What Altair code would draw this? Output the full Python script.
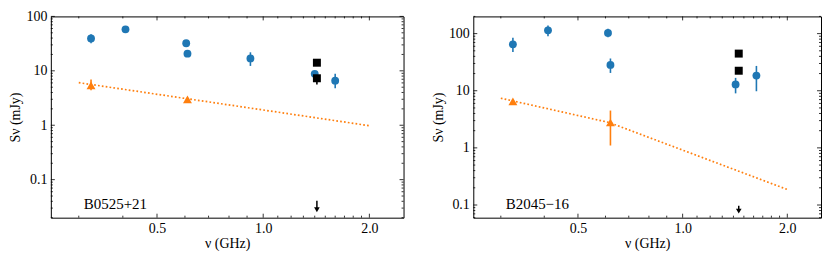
import altair as alt
import pandas as pd

# ---------------- data ----------------
# Panel A: B0525+21
a_name = "B0525+21"
a_blue_freq = [0.325, 0.407, 0.605, 0.61, 0.92, 1.40, 1.60]
a_blue_flux = [39.4, 57.9, 32.1, 20.7, 16.9, 8.8, 6.6]
a_blue_lo = [32.1, 57.9, 32.1, 20.7, 12.3, 8.1, 4.8]
a_blue_hi = [47.2, 57.9, 32.1, 20.7, 21.9, 9.6, 8.8]
a_sq_freq = [1.42, 1.42]
a_sq_flux = [14.1, 7.3]
a_sq_lo = [14.1, 5.6]
a_sq_hi = [14.1, 7.3]
a_ul_freq = [1.42]
a_ul_flux = [0.041]
a_ul_tip = [0.028]
a_tri_freq = [0.325, 0.61]
a_tri_flux = [5.4, 3.0]
a_tri_lo = [4.4, 3.0]
a_tri_hi = [6.9, 3.0]
a_fit_freq = [0.30, 2.0]
a_fit_flux = [6.06, 0.98]
a_label_pos = [0.31, 0.036]
a_ydomain = [0.02, 100]

# Panel B: B2045-16
b_name = "B2045\u221216"
b_blue_freq = [0.325, 0.41, 0.61, 0.62, 1.42, 1.63]
b_blue_flux = [65, 114, 103, 28.3, 12.9, 18.4]
b_blue_lo = [47.6, 90, 86, 20.5, 9.0, 9.8]
b_blue_hi = [84.5, 139, 122, 36.7, 16.8, 27.2]
b_sq_freq = [1.45, 1.45]
b_sq_flux = [44.7, 22.4]
b_sq_lo = [44.7, 22.4]
b_sq_hi = [44.7, 22.4]
b_ul_freq = [1.45]
b_ul_flux = [0.097]
b_ul_tip = [0.078]
b_tri_freq = [0.325, 0.62]
b_tri_flux = [6.5, 2.78]
b_tri_lo = [6.5, 1.1]
b_tri_hi = [6.5, 4.5]
b_fit_freq = [0.30, 0.615, 2.0]
b_fit_flux = [7.4, 2.78, 0.187]
b_label_pos = [0.31, 0.105]
b_ydomain = [0.06, 200]

x_domain = [0.25, 2.5]
x_major = [0.5, 1.0, 2.0]
x_minor = [0.3, 0.4, 0.6, 0.7, 0.8, 0.9, 1.1, 1.2, 1.3, 1.4, 1.5, 1.6, 1.7, 1.8, 1.9]
y_major_all = [0.1, 1, 10, 100]
y_minor_all = [m * 10.0 ** e for e in (-2, -1, 0, 1, 2) for m in range(2, 10)]

BLUE = "#1f77b4"
ORANGE = "#ff7f0e"
FONT = "Liberation Serif, Times New Roman, serif"
H = 202
MAJ = 4
MIN = 2


def panel(name, bf, bv, blo, bhi, sf, sv, slo, shi, uf, uv, ut, tf, tv, tlo, thi,
          ff, fv, lab, ydom, W):
    xs = alt.Scale(type="log", domain=x_domain, nice=False)
    ys = alt.Scale(type="log", domain=ydom, nice=False)
    X = alt.X("freq:Q", scale=xs,
              axis=alt.Axis(values=x_major, format=".1f", ticks=False, domain=False,
                            grid=False, labelPadding=4, titlePadding=1),
              title="\u03bd (GHz)")
    Y = alt.Y("flux:Q", scale=ys,
              axis=alt.Axis(values=y_major_all, format="~g", ticks=False, domain=False,
                            grid=False, labelPadding=4, titlePadding=3),
              title="S\u03bd (mJy)")

    blue = pd.DataFrame({"freq": bf, "flux": bv, "lo": blo, "hi": bhi})
    sq = pd.DataFrame({"freq": sf, "flux": sv, "lo": slo, "hi": shi})
    ul = pd.DataFrame({"freq": uf, "flux": uv, "tip": ut})
    tri = pd.DataFrame({"freq": tf, "flux": tv, "lo": tlo, "hi": thi})
    fit = pd.DataFrame({"freq": ff, "flux": fv})
    labdf = pd.DataFrame({"freq": [lab[0]], "flux": [lab[1]], "t": [name]})

    ymaj = [v for v in y_major_all if ydom[0] <= v <= ydom[1]]
    ymin = [v for v in y_minor_all if ydom[0] <= v <= ydom[1]]
    xmaj_df = pd.DataFrame({"freq": x_major})
    xmin_df = pd.DataFrame({"freq": x_minor})
    ymaj_df = pd.DataFrame({"flux": ymaj})
    ymin_df = pd.DataFrame({"flux": ymin})

    layers = []
    layers.append(alt.Chart(fit).mark_line(color=ORANGE, strokeWidth=1.7,
                                           strokeDash=[1.7, 2.2]).encode(x=X, y=Y))
    layers.append(alt.Chart(blue).mark_rule(color=BLUE, strokeWidth=1.6).encode(
        x=X, y=alt.Y("lo:Q", scale=ys), y2="hi:Q"))
    layers.append(alt.Chart(tri).mark_rule(color=ORANGE, strokeWidth=1.6).encode(
        x=X, y=alt.Y("lo:Q", scale=ys), y2="hi:Q"))
    layers.append(alt.Chart(sq).mark_rule(color="black", strokeWidth=1.6).encode(
        x=X, y=alt.Y("lo:Q", scale=ys), y2="hi:Q"))
    layers.append(alt.Chart(blue).mark_point(shape="circle", filled=True, opacity=1,
                                             color=BLUE, size=62).encode(x=X, y=Y))
    layers.append(alt.Chart(tri).mark_point(shape="triangle-up", filled=True, opacity=1,
                                            color=ORANGE, size=80).encode(x=X, y=Y))
    layers.append(alt.Chart(sq).mark_point(shape="square", filled=True, opacity=1,
                                           color="black", size=64).encode(x=X, y=Y))
    layers.append(alt.Chart(ul).mark_rule(color="black", strokeWidth=1.5).encode(
        x=X, y=Y, y2="tip:Q"))
    layers.append(alt.Chart(ul).mark_point(shape="triangle-down", filled=True, opacity=1,
                                           color="black", size=32).encode(
        x=X, y=alt.Y("tip:Q", scale=ys)))
    layers.append(alt.Chart(labdf).mark_text(align="left", baseline="middle", font=FONT,
                                             fontSize=15, color="black").encode(
        x=X, y=Y, text="t:N"))
    for df, ln in ((xmaj_df, MAJ), (xmin_df, MIN)):
        layers.append(alt.Chart(df).mark_rule(color="black", strokeWidth=0.8).encode(
            x=X, y=alt.value(H), y2=alt.value(H - ln)))
        layers.append(alt.Chart(df).mark_rule(color="black", strokeWidth=0.8).encode(
            x=X, y=alt.value(0), y2=alt.value(ln)))
    for df, ln in ((ymaj_df, MAJ), (ymin_df, MIN)):
        layers.append(alt.Chart(df).mark_rule(color="black", strokeWidth=0.8).encode(
            y=Y, x=alt.value(0), x2=alt.value(ln)))
        layers.append(alt.Chart(df).mark_rule(color="black", strokeWidth=0.8).encode(
            y=Y, x=alt.value(W), x2=alt.value(W - ln)))

    return alt.layer(*layers).properties(width=W, height=H)


left = panel(a_name, a_blue_freq, a_blue_flux, a_blue_lo, a_blue_hi,
             a_sq_freq, a_sq_flux, a_sq_lo, a_sq_hi, a_ul_freq, a_ul_flux, a_ul_tip,
             a_tri_freq, a_tri_flux, a_tri_lo, a_tri_hi, a_fit_freq, a_fit_flux,
             a_label_pos, a_ydomain, 354)
right = panel(b_name, b_blue_freq, b_blue_flux, b_blue_lo, b_blue_hi,
              b_sq_freq, b_sq_flux, b_sq_lo, b_sq_hi, b_ul_freq, b_ul_flux, b_ul_tip,
              b_tri_freq, b_tri_flux, b_tri_lo, b_tri_hi, b_fit_freq, b_fit_flux,
              b_label_pos, b_ydomain, 349)

chart = alt.hconcat(left, right, spacing=26).properties(padding=0).configure_view(
    stroke="black", strokeWidth=1
).configure_axis(
    labelFont=FONT, titleFont=FONT, labelFontSize=14, titleFontSize=14,
    titleFontWeight="normal", labelColor="black", titleColor="black"
)

chart.save("out.html", embed_options={"renderer": "svg", "actions": False})
